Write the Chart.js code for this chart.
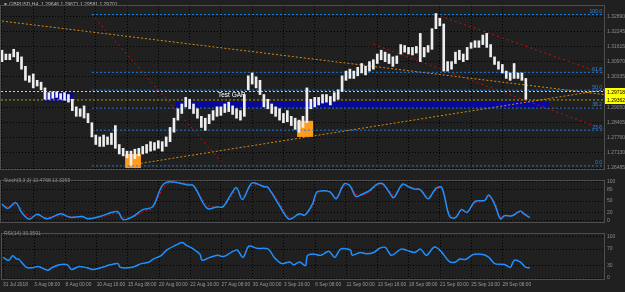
<!DOCTYPE html>
<html>
<head>
<meta charset="utf-8">
<script src="https://cdn.jsdelivr.net/npm/chart.js@4.4.1/dist/chart.umd.min.js"></script>
<style>
  html, body { margin: 0; padding: 0; background: #202020; }
  #wrap { position: relative; width: 625px; height: 292px; overflow: hidden; background: #202020; }
  canvas { position: absolute; left: 0; }
</style>
</head>
<body>
<div id="wrap">
  <canvas id="main" width="625" height="175" style="top:0;width:625px;height:175px"></canvas>
  <canvas id="stoch" width="625" height="53" style="top:175px;width:625px;height:53px"></canvas>
  <canvas id="rsi" width="625" height="64" style="top:228px;width:625px;height:64px"></canvas>
</div>
<script>
// --- data (x = H4 bar index, candles every 2 bars) ---
const timeTicks = ['31 Jul 2018', '3 Aug 08:00', '8 Aug 00:00', '10 Aug 16:00', '15 Aug 08:00', '20 Aug 00:00',
  '22 Aug 16:00', '27 Aug 08:00', '30 Aug 00:00', '3 Sep 16:00', '6 Sep 08:00', '11 Sep 00:00',
  '13 Sep 16:00', '18 Sep 08:00', '21 Sep 00:00', '25 Sep 16:00', '28 Sep 08:00'];
const priceTicks = [1.32890, 1.32245, 1.31615, 1.30970, 1.30335, 1.29700, 1.29050, 1.28405, 1.27760, 1.27130, 1.26485];

const candleHigh = [
  1.3146, 1.3130, 1.3130, 1.3150, 1.3138, 1.3118, 1.3078, 1.3038, 1.3046, 1.3019,
  1.3011, 1.2987, 1.2967, 1.2971, 1.2971, 1.2963, 1.2967, 1.2959, 1.2939, 1.2907,
  1.2899, 1.2911, 1.2879, 1.2840, 1.2788, 1.2780, 1.2788, 1.2780, 1.2796, 1.2828,
  1.2748, 1.2732, 1.2720, 1.2720, 1.2728, 1.2732, 1.2740, 1.2748, 1.2760, 1.2756,
  1.2764, 1.2760, 1.2780, 1.2820, 1.2859, 1.2899, 1.2919, 1.2947, 1.2939, 1.2919,
  1.2899, 1.2867, 1.2859, 1.2875, 1.2891, 1.2907, 1.2907, 1.2919, 1.2927, 1.2911,
  1.2899, 1.2891, 1.2959, 1.3038, 1.3050, 1.3034, 1.3019, 1.2959, 1.2939, 1.2919,
  1.2907, 1.2899, 1.2879, 1.2891, 1.2867, 1.2859, 1.2851, 1.2867, 1.2987, 1.2939,
  1.2947, 1.2947, 1.2959, 1.2959, 1.2951, 1.2967, 1.2979, 1.3038, 1.3058, 1.3066,
  1.3058, 1.3074, 1.3090, 1.3078, 1.3098, 1.3106, 1.3130, 1.3146, 1.3138, 1.3130,
  1.3118, 1.3122, 1.3170, 1.3166, 1.3158, 1.3158, 1.3162, 1.3217, 1.3158, 1.3166,
  1.3237, 1.3301, 1.3281, 1.3257, 1.3098, 1.3098, 1.3138, 1.3146, 1.3130, 1.3158,
  1.3178, 1.3186, 1.3186, 1.3210, 1.3217, 1.3170, 1.3118, 1.3098, 1.3086, 1.3058,
  1.3050, 1.3090, 1.3050, 1.3050, 1.3027];
const candleLow = [
  1.3098, 1.3106, 1.3106, 1.3118, 1.3098, 1.3066, 1.3019, 1.3011, 1.2987, 1.2995,
  1.2979, 1.2939, 1.2939, 1.2943, 1.2947, 1.2939, 1.2935, 1.2927, 1.2891, 1.2867,
  1.2867, 1.2860, 1.2840, 1.2780, 1.2748, 1.2740, 1.2740, 1.2748, 1.2748, 1.2732,
  1.2708, 1.2700, 1.2692, 1.2660, 1.2688, 1.2700, 1.2708, 1.2712, 1.2720, 1.2724,
  1.2732, 1.2720, 1.2740, 1.2760, 1.2800, 1.2851, 1.2879, 1.2907, 1.2899, 1.2879,
  1.2859, 1.2820, 1.2808, 1.2836, 1.2851, 1.2867, 1.2871, 1.2883, 1.2887, 1.2875,
  1.2859, 1.2851, 1.2867, 1.2979, 1.3003, 1.2987, 1.2959, 1.2907, 1.2899, 1.2879,
  1.2867, 1.2851, 1.2840, 1.2844, 1.2828, 1.2812, 1.2800, 1.2820, 1.2840, 1.2899,
  1.2907, 1.2915, 1.2923, 1.2927, 1.2915, 1.2931, 1.2939, 1.2971, 1.3019, 1.3027,
  1.3027, 1.3038, 1.3050, 1.3042, 1.3058, 1.3066, 1.3090, 1.3106, 1.3098, 1.3090,
  1.3078, 1.3090, 1.3130, 1.3138, 1.3130, 1.3126, 1.3134, 1.3098, 1.3118, 1.3138,
  1.3150, 1.3237, 1.3249, 1.3058, 1.3058, 1.3066, 1.3090, 1.3106, 1.3098, 1.3106,
  1.3154, 1.3158, 1.3158, 1.3170, 1.3158, 1.3118, 1.3086, 1.3066, 1.3050, 1.3027,
  1.3019, 1.3027, 1.3027, 1.3019, 1.2939];

const stochT = [0, 3, 7, 10, 14, 18, 23, 30, 35, 41, 44, 50, 59, 62, 67, 72, 77, 82, 86, 95,
  98, 105, 110, 113, 117, 120, 123, 128, 134, 136, 142, 147, 152, 155, 159, 161, 165, 168, 171, 175,
  178, 181, 184, 188, 192, 195, 200, 201, 205, 208, 211, 214, 218, 222, 225, 229, 232, 235, 238, 242,
  247, 249, 252, 255, 257, 261, 265, 267, 270];
const stochMain = [42, 31, 46, 21, 3, 16, 4, 17, 8, 10, 4, 10, 23, 2, 10, 28, 35, 90, 100, 92,
  90, 31, 35, 35, 66, 85, 54, 97, 87, 86, 38, 3, 17, 14, 44, 73, 77, 73, 56, 94,
  90, 62, 67, 77, 94, 94, 59, 62, 94, 87, 81, 80, 56, 83, 85, 10, 7, 28, 21, 49,
  52, 66, 42, 4, 12, 12, 24, 17, 7];
const stochSignal = [40, 35, 40, 30, 10, 12, 8, 12, 10, 9, 6, 8, 18, 8, 8, 22, 32, 80, 97, 95,
  90, 40, 34, 35, 58, 80, 62, 90, 90, 86, 45, 8, 14, 15, 36, 66, 76, 74, 60, 88,
  91, 68, 65, 74, 90, 94, 65, 61, 90, 89, 83, 80, 62, 78, 84, 16, 8, 24, 22, 44,
  51, 63, 48, 8, 11, 12, 21, 20, 10];

const rsiT = [0, 3, 5, 7, 8, 12, 15, 18, 23, 25, 29, 33, 35, 39, 43, 46, 50, 55, 59, 60,
  66, 71, 75, 77, 81, 84, 90, 92, 94, 97, 101, 102, 106, 110, 113, 117, 120, 123, 126, 130,
  136, 139, 143, 147, 149, 152, 155, 156, 159, 163, 167, 170, 173, 178, 179, 183, 186, 190, 193, 196,
  199, 204, 207, 211, 214, 217, 221, 224, 229, 232, 234, 237, 241, 246, 249, 252, 257, 260, 262, 265,
  268, 270];
const rsiValues = [50, 43, 54, 46, 46, 26, 25, 28, 19, 25, 32, 32, 21, 28, 25, 21, 25, 32, 35, 26,
  26, 35, 39, 46, 54, 68, 83, 86, 79, 72, 57, 43, 50, 55, 52, 62, 68, 50, 77, 72,
  70, 50, 35, 39, 32, 39, 30, 54, 58, 55, 65, 50, 70, 68, 55, 62, 59, 62, 72, 74,
  55, 70, 67, 62, 70, 55, 75, 67, 39, 39, 46, 45, 57, 57, 50, 35, 33, 26, 43, 39,
  26, 25];

const fibLevels = [0, 23.6, 38.2, 50, 61.8, 100];
const fibLow = 1.26577, fibHigh = 1.32970, fibStart = 46;
const hLines = [1.29718, 1.29362];
// [bar0, price0, bar1, price1]
const orangeTrends = [[0, 1.32692, 308, 1.29589], [71, 1.26685, 308, 1.29788]];
const redTrends = [[46, 1.32970, 113, 1.26685], [222, 1.32970, 308, 1.30464], [190, 1.31713, 308, 1.28117]];
// [bar0, bar1, priceTop, priceBottom]
const gapBoxes = [[21, 36.3, 1.2967, 1.2927], [89, 280, 1.2929, 1.2906]];
const orangeBoxes = [[63, 71.1, 1.2708, 1.2649], [151, 159.2, 1.2848, 1.2780]];
const gapLabel = [110.5, 1.2955, 'Test GAP'];

const FONT = 'Liberation Sans, DejaVu Sans, sans-serif';
const GRID = '#000000';

function xScale(showLabels) {
  return {
    type: 'linear', min: -0.5, max: 308, offset: false,
    afterBuildTicks: s => { s.ticks = timeTicks.map((_, i) => ({ value: i * 16 })); },
    ticks: { display: showLabels, autoSkip: false, maxRotation: 0, minRotation: 0, align: 'start',
      padding: 3, color: '#9a9a9a', font: { size: 4.8, family: FONT }, callback: (v, i) => timeTicks[i] },
    grid: { color: GRID, lineWidth: 1, drawTicks: false, offset: false },
    border: { display: false, dash: [1, 2] },
    afterFit: s => { s.height = showLabels ? 13 : 0; }
  };
}
function yScale(min, max, ticks, fmt) {
  return {
    position: 'right', min: min, max: max,
    afterBuildTicks: s => { s.ticks = ticks.map(v => ({ value: v })); },
    ticks: { color: '#8c8c8c', font: { size: 5, family: FONT }, padding: 3, callback: fmt },
    grid: { color: GRID, lineWidth: 1, drawTicks: false },
    border: { display: false, dash: [1, 2] },
    afterFit: s => { s.width = 21; }
  };
}
function seg(x0, p0, x1, p1, color, dash) {
  return { type: 'line', data: [{ x: x0, y: p0 }, { x: x1, y: p1 }], borderColor: color, borderWidth: 1,
    borderDash: dash, pointRadius: 0, fill: false, tension: 0 };
}
function frame(chart) {
  const a = chart.chartArea, ctx = chart.ctx;
  ctx.save();
  ctx.strokeStyle = '#4e4e4e';
  ctx.lineWidth = 1;
  ctx.strokeRect(Math.round(a.left) - 0.5, Math.round(a.top) - 0.5, Math.round(a.right - a.left) + 1, Math.round(a.bottom - a.top) + 1);
  ctx.restore();
}
function paneTitle(chart, text) {
  const ctx = chart.ctx;
  ctx.save();
  ctx.fillStyle = '#8a8a8a';
  ctx.font = '5px ' + FONT;
  ctx.textBaseline = 'middle';
  ctx.fillText(text, 4, 6);
  ctx.restore();
}

const overlay = {
  id: 'overlay',
  beforeDatasetsDraw(chart) {
    const ctx = chart.ctx, xs = chart.scales.x, ys = chart.scales.y;
    const box = (b, color) => {
      const x0 = xs.getPixelForValue(b[0]), x1 = xs.getPixelForValue(b[1]);
      const y0 = ys.getPixelForValue(b[2]), y1 = ys.getPixelForValue(b[3]);
      ctx.fillStyle = color;
      ctx.fillRect(x0, y0, x1 - x0, y1 - y0);
    };
    ctx.save();
    gapBoxes.forEach(b => box(b, '#08089c'));
    orangeBoxes.forEach(b => box(b, '#ff9b1e'));
    ctx.restore();
  },
  afterDatasetsDraw(chart) {
    const ctx = chart.ctx, xs = chart.scales.x, ys = chart.scales.y, a = chart.chartArea;
    ctx.save();
    // fib level labels
    ctx.fillStyle = '#2f86e6';
    ctx.font = '5px ' + FONT;
    ctx.textAlign = 'right';
    ctx.textBaseline = 'bottom';
    fibLevels.forEach(l => {
      const y = ys.getPixelForValue(fibLow + (fibHigh - fibLow) * l / 100);
      ctx.fillText(l.toFixed(1), a.right - 2, y - 0.5);
    });
    // text object
    ctx.fillStyle = '#ffffff';
    ctx.font = '6.5px ' + FONT;
    ctx.textAlign = 'left';
    ctx.textBaseline = 'middle';
    ctx.fillText(gapLabel[2], xs.getPixelForValue(gapLabel[0]), ys.getPixelForValue(gapLabel[1]));
    // header
    ctx.fillStyle = '#b4b4b4';
    ctx.font = '5px ' + FONT;
    ctx.fillText('\u25BC GBPUSD,H4  1.29646 1.29671 1.29581 1.29701', 3, 5);
    ctx.restore();
  },
  afterDraw(chart) {
    frame(chart);
    const ctx = chart.ctx, ys = chart.scales.y, a = chart.chartArea;
    ctx.save();
    ctx.font = '5px ' + FONT;
    ctx.textBaseline = 'middle';
    hLines.forEach(p => {
      const y = Math.round(ys.getPixelForValue(p));
      ctx.fillStyle = '#ffff00';
      ctx.fillRect(a.right + 1, y - 4, 625 - a.right - 1, 8);
      ctx.fillStyle = '#000000';
      ctx.fillText(p.toFixed(5), a.right + 3, y + 0.5);
    });
    ctx.restore();
  }
};

const base = { responsive: false, animation: false, events: [],
  plugins: { legend: { display: false }, tooltip: { enabled: false } } };

// main price pane
const mainSets = [{
  type: 'bar',
  data: candleHigh.map((h, i) => ({ x: i * 2, y: [candleLow[i], h] })),
  backgroundColor: '#eeeeee', barThickness: 2, grouped: false
}];
hLines.forEach((p, i) => mainSets.push(seg(-0.5, p, 308, p, i === 0 ? '#e8e800' : '#a6a600', [2, 2])));
fibLevels.forEach(l => {
  const p = fibLow + (fibHigh - fibLow) * l / 100;
  mainSets.push(seg(fibStart, p, 308, p, '#1e7ee0', [2, 2]));
});
orangeTrends.forEach(t => mainSets.push(seg(t[0], t[1], t[2], t[3], '#d98a10', [2, 2])));
redTrends.forEach(t => mainSets.push(seg(t[0], t[1], t[2], t[3], '#c01010', [2, 3])));

new Chart(document.getElementById('main'), {
  data: { datasets: mainSets },
  options: Object.assign({}, base, {
    layout: { padding: { top: 1, bottom: 1, left: 1, right: 0 } },
    scales: { x: xScale(false), y: yScale(1.26446, 1.33328, priceTicks, v => v.toFixed(5)) }
  }),
  plugins: [overlay]
});

// stochastic pane
new Chart(document.getElementById('stoch'), {
  type: 'line',
  data: { datasets: [
    { data: stochT.map((t, i) => ({ x: t, y: stochMain[i] })), borderColor: '#1e90ff', borderWidth: 1.5,
      pointRadius: 0, tension: 0.35 },
    { data: stochT.map((t, i) => ({ x: t, y: stochSignal[i] })), borderColor: '#e01010', borderWidth: 1,
      borderDash: [2, 2], pointRadius: 0, tension: 0.35 }
  ] },
  options: Object.assign({}, base, {
    layout: { padding: { top: 1, bottom: 1, left: 1, right: 0 } },
    scales: { x: xScale(false), y: yScale(-4.17, 102.08, [0, 20, 50, 80, 100], v => String(v)) }
  }),
  plugins: [{ id: 'stochDeco', afterDraw(chart) { frame(chart); paneTitle(chart, 'Stoch(5,3,3) 10.4768 13.3265'); } }]
});

// RSI pane
new Chart(document.getElementById('rsi'), {
  type: 'line',
  data: { datasets: [
    { data: rsiT.map((t, i) => ({ x: t, y: rsiValues[i] })), borderColor: '#1e90ff', borderWidth: 1.5,
      pointRadius: 0, tension: 0.3 }
  ] },
  options: Object.assign({}, base, {
    layout: { padding: { top: 1, bottom: 0, left: 1, right: 0 } },
    scales: { x: xScale(true), y: yScale(-2.17, 106.5, [0, 20, 30, 50, 70, 80, 100], v => String(v)) }
  }),
  plugins: [{ id: 'rsiDeco', afterDraw(chart) { frame(chart); paneTitle(chart, 'RSI(14) 30.3591'); } }]
});
</script>
</body>
</html>
